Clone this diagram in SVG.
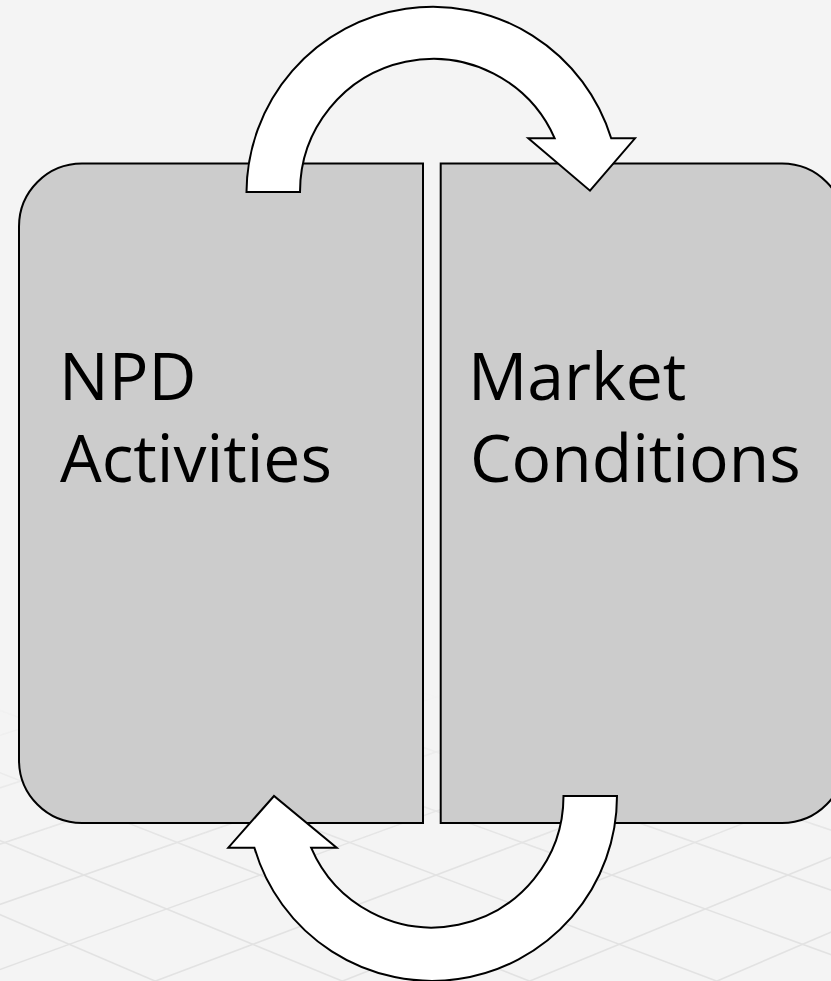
<svg xmlns="http://www.w3.org/2000/svg" width="831" height="981" viewBox="0 0 831 981">
  <style>
    .grid line { stroke: #e2e2e2; stroke-width: 1.6; }
    .box { fill: #cccccc; stroke: #000000; stroke-width: 2; }
    .arrow { fill: #ffffff; stroke: #000000; stroke-width: 2; stroke-linejoin: miter; }
    .label { font-family: "Open Sans", "Noto Sans", "Liberation Sans", sans-serif; font-size: 66px; fill: #000000; }
  </style>
  <defs>
    <linearGradient id="fadeGrad" gradientUnits="userSpaceOnUse" x1="0" y1="690" x2="0" y2="860">
      <stop offset="0" stop-color="#ffffff" stop-opacity="0"/>
      <stop offset="1" stop-color="#ffffff" stop-opacity="1"/>
    </linearGradient>
    <mask id="fade" maskUnits="userSpaceOnUse" x="0" y="0" width="831" height="981">
      <rect x="0" y="0" width="831" height="981" fill="url(#fadeGrad)"/>
    </mask>
  </defs>

  <g id="background">
    <rect x="0" y="0" width="831" height="981" fill="#f4f4f4"/>
    <g class="grid" mask="url(#fade)">
      <line x1="-879.8" y1="600" x2="10" y2="1000"/>
      <line x1="-732.9" y1="600" x2="199.2" y2="1000"/>
      <line x1="-586" y1="600" x2="388.4" y2="1000"/>
      <line x1="-439.1" y1="600" x2="577.6" y2="1000"/>
      <line x1="-292.2" y1="600" x2="766.8" y2="1000"/>
      <line x1="-145.3" y1="600" x2="956" y2="1000"/>
      <line x1="1.6" y1="600" x2="1145.2" y2="1000"/>
      <line x1="148.5" y1="600" x2="1334.4" y2="1000"/>
      <line x1="295.4" y1="600" x2="1523.6" y2="1000"/>
      <line x1="442.3" y1="600" x2="1712.8" y2="1000"/>
      <line x1="589.2" y1="600" x2="1902" y2="1000"/>
      <line x1="736.1" y1="600" x2="2091.2" y2="1000"/>
      <line x1="1604.9" y1="600" x2="672.8" y2="1000"/>
      <line x1="1458" y1="600" x2="483.6" y2="1000"/>
      <line x1="1311.1" y1="600" x2="294.4" y2="1000"/>
      <line x1="1164.2" y1="600" x2="105.2" y2="1000"/>
      <line x1="1017.3" y1="600" x2="-84" y2="1000"/>
      <line x1="870.4" y1="600" x2="-273.2" y2="1000"/>
      <line x1="723.5" y1="600" x2="-462.4" y2="1000"/>
      <line x1="576.6" y1="600" x2="-651.6" y2="1000"/>
      <line x1="429.7" y1="600" x2="-840.8" y2="1000"/>
      <line x1="282.8" y1="600" x2="-1030" y2="1000"/>
      <line x1="135.9" y1="600" x2="-1219.2" y2="1000"/>
    </g>
  </g>

  <g id="node-npd">
    <path class="box" d="M 82,163.5 H 423 V 823 H 82 A 63 63 0 0 1 19,760 V 226.5 A 63 63 0 0 1 82,163.5 Z"/>
    <text class="label" x="59" y="399.5">NPD</text>
    <text class="label" x="60" y="481.7">Activities</text>
  </g>

  <g id="node-market">
    <path class="box" d="M 440.7,163.5 H 782 A 63 63 0 0 1 845,226.5 V 760 A 63 63 0 0 1 782,823 H 440.7 Z"/>
    <text class="label" x="468" y="399.5">Market</text>
    <text class="label" x="470" y="481.7">Conditions</text>
  </g>

  <g id="connectors">
    <path id="arrow-top" class="arrow" d="M 246.5,192 A 186.5 186.5 0 0 1 611.2,138.3 L 635,138.3 L 590,190.7 L 528.3,138.3 L 554.7,138.3 A 133 133 0 0 0 300,192 Z"/>
    <path id="arrow-bottom" class="arrow" d="M 617,796 A 185 185 0 0 1 254.4,847.7 L 228.3,847.7 L 274,796 L 336.7,847.7 L 311.1,847.7 A 131.5 131.5 0 0 0 563.5,796 Z"/>
  </g>
</svg>
